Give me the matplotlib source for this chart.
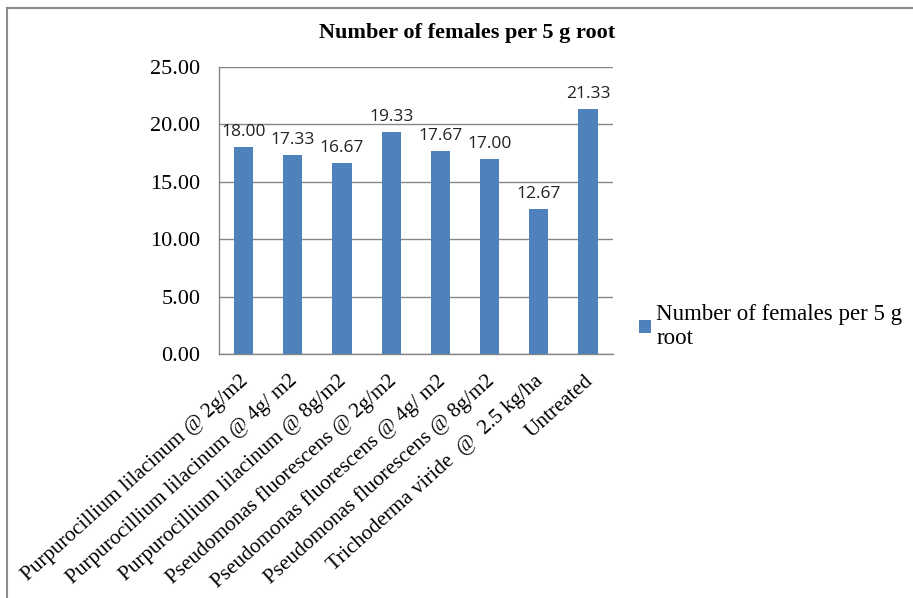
import matplotlib.pyplot as plt
import numpy as np
from matplotlib.lines import Line2D
from matplotlib.ticker import FormatStrFormatter
from matplotlib.transforms import ScaledTranslation

treatments = [
    "Purpurocillium lilacinum @ 2g/m2",
    "Purpurocillium lilacinum @ 4g/ m2",
    "Purpurocillium lilacinum @ 8g/m2",
    "Pseudomonas fluorescens @ 2g/m2",
    "Pseudomonas fluorescens @ 4g/ m2",
    "Pseudomonas fluorescens @ 8g/m2",
    "Trichoderma viride  @  2.5 kg/ha",
    "Untreated",
]
females = [18.00, 17.33, 16.67, 19.33, 17.67, 17.00, 12.67, 21.33]
y_ticks = [0, 5, 10, 15, 20, 25]

SERIF = ["Liberation Serif", "DejaVu Serif"]
BAR_COLOR = "#4F81BD"
GRID_COLOR = "#868686"

fig = plt.figure(figsize=(9.13, 5.98), dpi=100)
ax = fig.add_axes([0.240, 0.408, 0.431, 0.480])

x = np.arange(len(treatments))
bars = ax.bar(x, females, width=0.39, color=BAR_COLOR, zorder=3,
              label="Number of females per 5 g\nroot")

# value labels above each bar
for rect, val in zip(bars, females):
    ax.annotate("%.2f" % val, (rect.get_x() + rect.get_width() / 2, val),
                xytext=(0, 5), textcoords="offset points",
                ha="center", va="bottom", fontsize=12.5,
                family="Open Sans", color="#222222")

ax.set_xlim(-0.5, len(treatments) - 0.5)
ax.set_ylim(0, 25)
ax.set_yticks(y_ticks)
ax.yaxis.set_major_formatter(FormatStrFormatter("%.2f"))
ax.yaxis.grid(True, color=GRID_COLOR, linewidth=1.0, zorder=0)
ax.tick_params(axis="both", length=0)
ax.tick_params(axis="y", pad=13.5)
for lbl in ax.get_yticklabels():
    lbl.set_family(SERIF)
    lbl.set_fontsize(16)

ax.set_xticks(x)
ax.set_xticklabels(treatments, rotation=42, ha="right", va="top",
                   rotation_mode="anchor", family=SERIF, fontsize=15.2)
ax.tick_params(axis="x", pad=12.5)
# nudge the slanted labels so their ends sit just under each bar
shift = ScaledTranslation(-3 / 72, 0, fig.dpi_scale_trans)
for lbl in ax.get_xticklabels():
    lbl.set_transform(lbl.get_transform() + shift)

for side in ("top", "right"):
    ax.spines[side].set_visible(False)
for side in ("left", "bottom"):
    ax.spines[side].set_color(GRID_COLOR)
    ax.spines[side].set_linewidth(1.0)

fig.text(0.512, 0.945, "Number of females per 5 g root", ha="center",
         va="center", family=SERIF, fontsize=16, fontweight="bold")

leg = fig.legend(loc="upper left", bbox_to_anchor=(0.700, 0.492),
                 frameon=False, prop={"family": SERIF, "size": 16.5},
                 handlelength=0.5, handleheight=0.5, handletextpad=0.25,
                 borderaxespad=0, borderpad=0)

# chart area frame (left and top edges)
fig.add_artist(Line2D([0.0077, 0.0077], [0, 0.987], transform=fig.transFigure,
                      color="#8c8c8c", linewidth=1.5))
fig.add_artist(Line2D([0.0077, 1.0], [0.987, 0.987], transform=fig.transFigure,
                      color="#8c8c8c", linewidth=1.5))

fig.savefig("out.png", dpi=100)
